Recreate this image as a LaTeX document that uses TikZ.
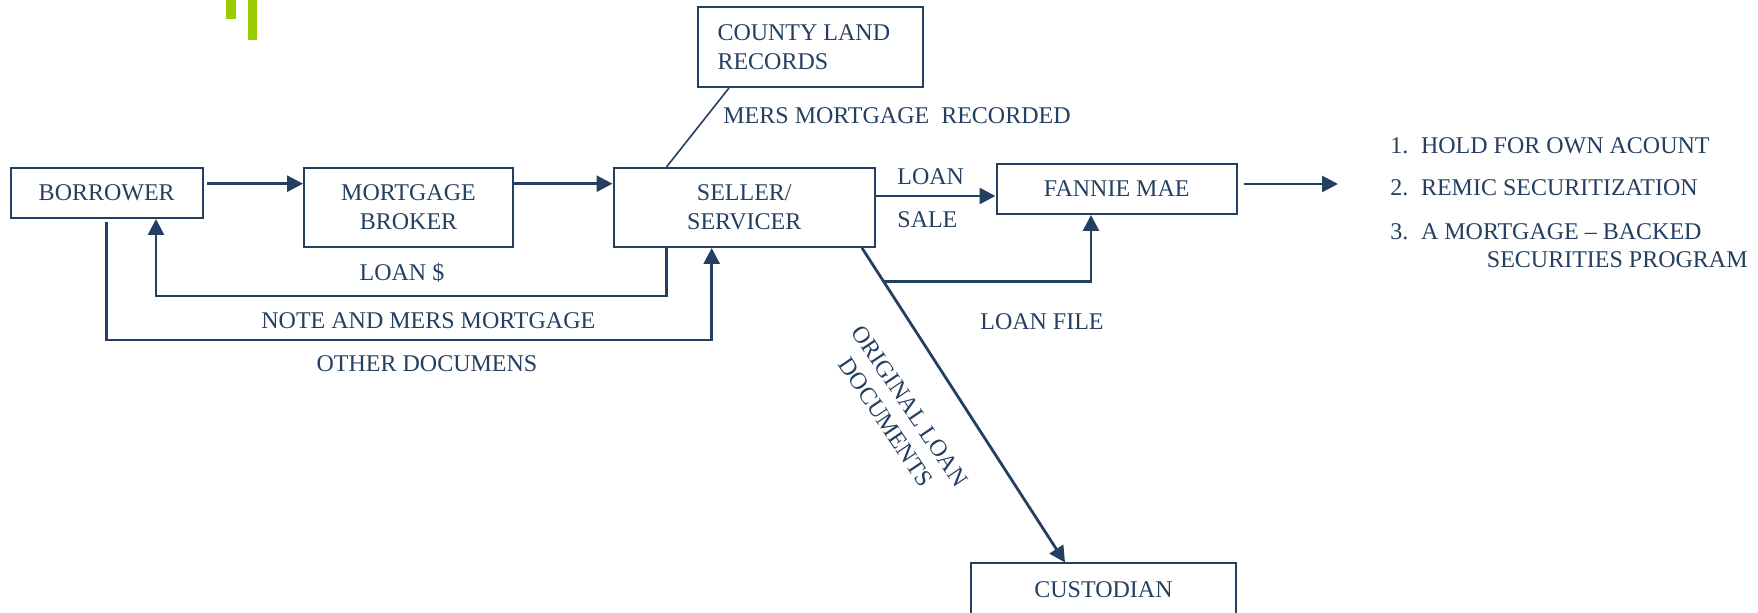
\documentclass[tikz,border=0pt]{standalone}
\usepackage{fontspec}
\setmainfont{Liberation Serif}
\usetikzlibrary{arrows.meta,calc}
\definecolor{navy}{RGB}{36,63,96}
\definecolor{lime}{RGB}{153,204,0}
\begin{document}
\begin{tikzpicture}[x=0.5pt,y=-0.5pt,
  font=\fontsize{12}{14.5}\selectfont, text=navy,
  box/.style={draw=navy,line width=1pt,inner sep=0pt,align=center},
  arr/.style={draw=navy,line width=1.4pt,-{Triangle[length=8pt,width=8pt]}},
  thin/.style={draw=navy,line width=0.8pt},
  lbl/.style={inner sep=0pt},
  bar/.style={fill=lime,draw=none}]
\useasboundingbox (0,0) rectangle (1758,613);
\clip (0,0) rectangle (1758,613);
% green bars
\fill[bar] (226,0) rectangle (236,19);
\fill[bar] (248,0) rectangle (257,40);
% boxes
\node[box,minimum width=96.25pt,minimum height=25pt] (borrower) at (106.75,193) {BORROWER};
\node[box,minimum width=104.5pt,minimum height=39.5pt] (broker) at (408.5,207.5) {MORTGAGE\\BROKER};
\node[box,minimum width=130.75pt,minimum height=39.5pt] (seller) at (744.25,207.5) {SELLER/\\SERVICER};
\node[box,align=flush left,text width=93pt,inner xsep=9.75pt,minimum height=39.75pt] (county) at (810.5,47.25) {COUNTY LAND\\RECORDS};
\node[box,minimum width=120.25pt,minimum height=25pt] (fannie) at (1116.75,189) {FANNIE MAE};
\node[box,minimum width=132.5pt,minimum height=26pt] (custodian) at (1103.5,589.5) {CUSTODIAN};
% helper coordinates
\coordinate (r1) at (0,183.7);
\coordinate (r2) at (0,196);
\coordinate (out) at (1338,184);
\coordinate (q1) at (156,296);
\coordinate (q2) at (711.7,340);
\coordinate (lf) at (883.5,281.7);
% connectors
\draw[arr] ($(borrower.east|-r1)+(3,0)$) -- (broker.west|-r1);
\draw[arr] (broker.east|-r1) -- (seller.west|-r1);
\draw[arr] (seller.east|-r2) -- (fannie.west|-r2);
\draw[arr] ($(fannie.east|-out)+(6,0)$) -- (out);
\draw[thin] ($(county.south west)+(32,0)$) -- ($(seller.north west)+(54,0)$);
\draw[arr] ($(seller.south west)+(54,0)$) |- (q1) -- (q1|-borrower.south);
\draw[arr] ($(borrower.south)+(0,3)$) |- (q2) -- (q2|-seller.south);
\draw[arr] ($(seller.south east)+(-14,0)$) -- ($(custodian.north west)+(95,0)$);
\draw[arr] (lf) -| ($(fannie.south west)+(95.5,0)$);
% labels
\node[lbl,anchor=west] (lmers) at (723,116) {MERS MORTGAGE\ \ RECORDED};
\node[lbl,anchor=west] (lloan) at (897,177) {LOAN};
\node[lbl,anchor=west] (lsale) at (897,220) {SALE};
\node[lbl] (lloand) at (402,273) {LOAN \$};
\node[lbl,anchor=west] (lnote) at (261,321) {NOTE AND MERS MORTGAGE};
\node[lbl] (lother) at (427,364) {OTHER DOCUMENS};
\node[lbl] (lfile) at (1042,321.7) {LOAN FILE};
\node[lbl,align=center,rotate=-56] (lorig) at (898,414) {ORIGINAL LOAN\\DOCUMENTS};
% list
\node[lbl,anchor=west] (li1) at (1390,145.7) {\makebox[15.3pt][l]{1.}HOLD FOR OWN ACOUNT};
\node[lbl,anchor=west] (li2) at (1390,188) {\makebox[15.3pt][l]{2.}REMIC SECURITIZATION};
\node[lbl,anchor=west] (li3) at (1390,231.7) {\makebox[15.3pt][l]{3.}A MORTGAGE – BACKED};
\node[lbl,anchor=west] (li4) at (1486.5,260) {SECURITIES PROGRAM};
\end{tikzpicture}
\end{document}
